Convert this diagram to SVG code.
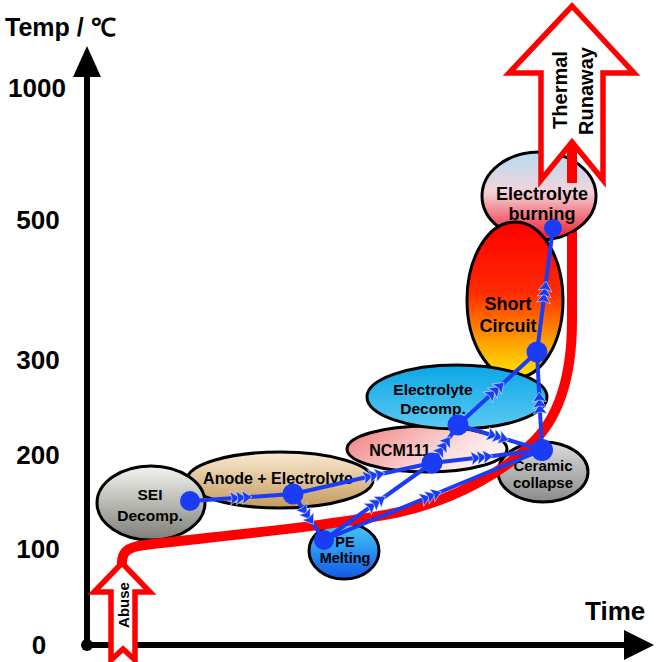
<svg xmlns="http://www.w3.org/2000/svg" width="660" height="662" viewBox="0 0 660 662">
<style>
text{font-family:"Liberation Sans",Arial,sans-serif;font-weight:bold;fill:#000;}
.ax{font-size:26px;text-anchor:middle;}
.lbl{text-anchor:middle;}
.ell{stroke:#000;stroke-width:3;}
.edge{fill:none;stroke:#1A3CF5;stroke-width:4;marker-mid:url(#chev);}
.node{fill:#1A3CF5;}
.hollow{fill:#fff;stroke:#FF0000;stroke-width:5.5;stroke-linejoin:miter;}
.red{fill:none;stroke:#FF0000;stroke-width:10;}
</style>
<defs>
<linearGradient id="gSEI" x1="0" y1="0" x2="0" y2="1"><stop offset="0" stop-color="#F4F4F0"/><stop offset="1" stop-color="#7E7E78"/></linearGradient>
<linearGradient id="gAnode" x1="0" y1="0" x2="0" y2="1"><stop offset="0" stop-color="#FAEBD2"/><stop offset="1" stop-color="#C39A5C"/></linearGradient>
<linearGradient id="gNCM" x1="0" y1="0" x2="1" y2="0.4"><stop offset="0" stop-color="#F07C7C"/><stop offset="0.7" stop-color="#FBD8D8"/><stop offset="1" stop-color="#FFF2F2"/></linearGradient>
<linearGradient id="gED" x1="0" y1="0" x2="0" y2="1"><stop offset="0" stop-color="#0AA6E6"/><stop offset="1" stop-color="#5CCAF2"/></linearGradient>
<linearGradient id="gSC" x1="0" y1="0" x2="0" y2="1"><stop offset="0" stop-color="#FF0000"/><stop offset="0.45" stop-color="#FF2A00"/><stop offset="0.75" stop-color="#FF9A00"/><stop offset="1" stop-color="#FFE800"/></linearGradient>
<linearGradient id="gEB" x1="0" y1="0" x2="0" y2="1"><stop offset="0" stop-color="#B4DCF2"/><stop offset="0.45" stop-color="#F3D3DA"/><stop offset="1" stop-color="#F01828"/></linearGradient>
<linearGradient id="gCer" x1="0" y1="0" x2="0" y2="1"><stop offset="0" stop-color="#DCDCDC"/><stop offset="1" stop-color="#8A8A8A"/></linearGradient>
<linearGradient id="gPE" x1="0" y1="0" x2="0" y2="1"><stop offset="0" stop-color="#48CCF8"/><stop offset="1" stop-color="#1058E6"/></linearGradient>
<marker id="chev" markerUnits="userSpaceOnUse" markerWidth="40" markerHeight="28" viewBox="-20 -14 40 28" refX="0" refY="0" orient="auto" overflow="visible">
<g fill="#1A3CF5" stroke="#fff" stroke-width="0.5" stroke-linejoin="miter">
<path d="M-13,-7 L-3,0 L-13,7 L-11,0 Z"/>
<path d="M-7,-7 L3,0 L-7,7 L-5,0 Z"/>
<path d="M-1,-7 L9,0 L-1,7 L1,0 Z"/>
</g>
</marker>
</defs>
<rect width="660" height="662" fill="#fff"/>

<g id="axes">
<line x1="87" y1="645" x2="87" y2="74" stroke="#000" stroke-width="6"/>
<polygon points="87,46 101,77 73,77" fill="#000"/>
<line x1="87" y1="645" x2="626" y2="645" stroke="#000" stroke-width="6"/>
<polygon points="654,645 624,630 624,660" fill="#000"/>
<circle cx="87" cy="645" r="6" fill="#000"/>
<text x="5" y="36" style="font-size:25px">Temp / ℃</text>
<text class="ax" x="37" y="97">1000</text>
<text class="ax" x="38" y="229">500</text>
<text class="ax" x="38" y="369">300</text>
<text class="ax" x="38" y="464">200</text>
<text class="ax" x="38" y="558">100</text>
<text class="ax" x="39" y="654">0</text>
<text x="585" y="620" style="font-size:26px">Time</text>
</g>

<g id="trajectory-top"><path class="red" d="M572,250 L572,140"/></g>

<g id="n-burning"><ellipse class="ell" cx="539" cy="196" rx="57" ry="44" fill="url(#gEB)"/><text class="lbl" x="542" y="200" style="font-size:18px">Electrolyte</text><text class="lbl" x="542" y="220" style="font-size:18px">burning</text></g>
<g id="n-short"><ellipse class="ell" cx="515" cy="300" rx="48" ry="78" fill="url(#gSC)"/><text class="lbl" x="508" y="310" style="font-size:18px">Short</text><text class="lbl" x="508" y="332" style="font-size:18px">Circuit</text></g>
<g id="n-ncm"><ellipse class="ell" cx="427" cy="449" rx="80" ry="23" fill="url(#gNCM)"/><text class="lbl" x="400" y="456" style="font-size:16px">NCM111</text></g>
<g id="n-anode"><ellipse class="ell" cx="280" cy="480" rx="93" ry="28" fill="url(#gAnode)"/><text class="lbl" x="278" y="484" style="font-size:16px">Anode + Electrolyte</text></g>
<g id="n-sei"><ellipse class="ell" cx="151" cy="503" rx="54" ry="37" fill="url(#gSEI)"/><text class="lbl" x="150" y="500" style="font-size:15.5px">SEI</text><text class="lbl" x="150" y="521" style="font-size:15.5px">Decomp.</text></g>
<g id="n-edecomp"><ellipse class="ell" cx="457" cy="397" rx="90" ry="32" fill="url(#gED)"/><text class="lbl" x="433" y="395" style="font-size:15.5px">Electrolyte</text><text class="lbl" x="433" y="414" style="font-size:15.5px">Decomp.</text></g>
<g id="n-ceramic"><ellipse class="ell" cx="543" cy="472" rx="45" ry="30" fill="url(#gCer)"/><text class="lbl" x="543" y="471" style="font-size:15px">Ceramic</text><text class="lbl" x="543" y="488" style="font-size:15px">collapse</text></g>
<g id="n-pe"><ellipse class="ell" cx="344" cy="551" rx="35" ry="28" fill="url(#gPE)"/><text class="lbl" x="345" y="547" style="font-size:14.5px">PE</text><text class="lbl" x="345" y="563" style="font-size:14.5px">Melting</text></g>

<g id="trajectory">
<path class="red" stroke-linecap="round" d="M122,566 C121,552 127,547 145,545 C230,535 330,526 400,512 C460,498 505,470 530,445 C558,420 572,380 572,320 L572,238"/>
<g id="abuse"><polygon class="hollow" points="122,563 150,592 135,592 135,660 123,649 111,660 111,592 94,592"/><text transform="translate(129,605) rotate(-90)" text-anchor="middle" style="font-size:15px">Abuse</text></g>
<g id="runaway"><polygon class="hollow" points="572,6 634,73 603,73 603,180 572,142 541,180 541,73 509,73"/><text transform="translate(567,90) rotate(-90)" text-anchor="middle" style="font-size:20px">Thermal</text><text transform="translate(593,91) rotate(-90)" text-anchor="middle" style="font-size:20px">Runaway</text></g>
<path class="red" d="M572,150 L572,183"/>
</g>

<g id="connectors">
<path class="edge" d="M190,501 L243,497.5 L293,494"/>
<path class="edge" d="M293,494 L376,475 L432,463"/>
<path class="edge" d="M293,494 L308.5,517 L324,540"/>
<path class="edge" d="M324,540 L378,501.5 L432,463"/>
<path class="edge" d="M324,540 L433,495 L542,450"/>
<path class="edge" d="M432,463 L445,444 L458,425"/>
<path class="edge" d="M432,463 L484,457 L542,450"/>
<path class="edge" d="M458,425 L497.5,388.5 L537,352"/>
<path class="edge" d="M458,425 L500,437.5 L542,450"/>
<path class="edge" d="M542,450 L539.5,401 L537,352"/>
<path class="edge" d="M537,352 L545,290 L553,228"/>
<g id="dots">
<circle class="node" cx="190" cy="501" r="10"/>
<circle class="node" cx="293" cy="494" r="10.5"/>
<circle class="node" cx="324" cy="540" r="10"/>
<circle class="node" cx="432" cy="463" r="10.5"/>
<circle class="node" cx="458" cy="425" r="10.5"/>
<circle class="node" cx="542" cy="450" r="11"/>
<circle class="node" cx="537" cy="352" r="10.5"/>
<circle class="node" cx="553" cy="228" r="9"/>
</g>
</g>
</svg>
